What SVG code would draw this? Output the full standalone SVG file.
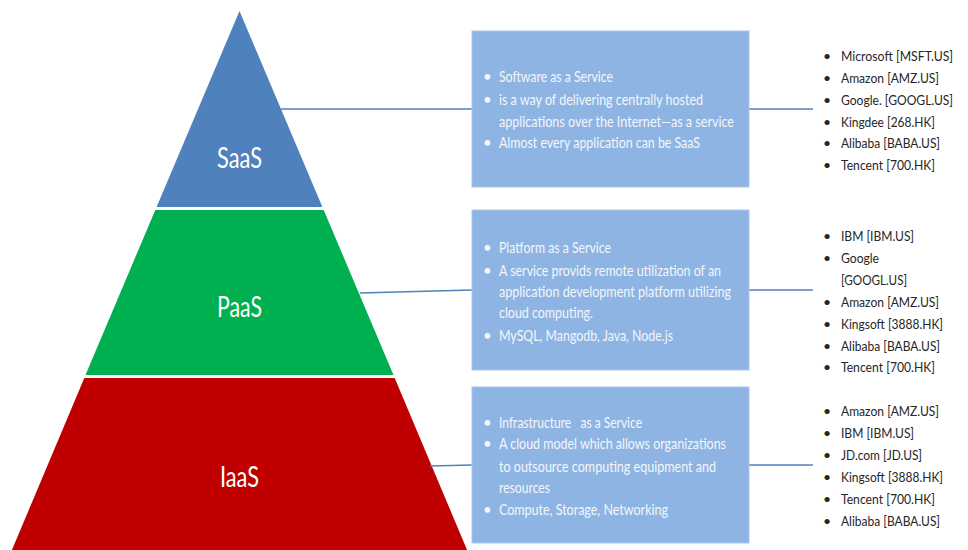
<svg xmlns="http://www.w3.org/2000/svg" width="968" height="550" viewBox="0 0 968 550">
<style>
.lbl{font-family:Lato,"Liberation Sans",sans-serif;font-size:28px;fill:#ffffff;}
.bx{fill:#8EB4E3;stroke:#A8C6EC;stroke-width:1;}
.bt{font-family:Lato,"Liberation Sans",sans-serif;font-size:15px;fill:#F4F6F9;}
.lt{font-family:Lato,"Liberation Sans",sans-serif;font-size:14px;fill:#262626;}
.conn line{stroke:#4F81BD;stroke-width:1.6;}
</style>
<rect width="968" height="550" fill="#ffffff"/>
<g id="saas">
<polygon points="239.5,11 322.4,207 156.6,207" fill="#4F81BD"/>
<text class="lbl" x="239.5" y="168" text-anchor="middle" textLength="45" lengthAdjust="spacingAndGlyphs">SaaS</text>
</g>
<g id="paas">
<polygon points="155.3,210 323.7,210 393.5,375 85.5,375" fill="#00B050"/>
<text class="lbl" x="239.5" y="317" text-anchor="middle" textLength="45" lengthAdjust="spacingAndGlyphs">PaaS</text>
</g>
<g id="iaas">
<polygon points="84.3,378 394.7,378 467.5,551 11.5,551" fill="#C00000"/>
<text class="lbl" x="239.5" y="487" text-anchor="middle" textLength="39" lengthAdjust="spacingAndGlyphs">IaaS</text>
</g>
<g class="conn" id="connectors">
<line x1="281" y1="109" x2="472" y2="109"/>
<line x1="749" y1="109" x2="813" y2="109"/>
<line x1="360" y1="293" x2="472" y2="290"/>
<line x1="749" y1="290" x2="813" y2="290"/>
<line x1="430" y1="466" x2="472" y2="465"/>
<line x1="749" y1="465" x2="813" y2="465"/>
</g>
<g id="box-saas">
<rect class="bx" x="472" y="31" width="277" height="156"/>
<text class="bt" x="483" y="82">•</text>
<text class="bt" x="499" y="82" textLength="114" lengthAdjust="spacingAndGlyphs">Software as a Service</text>
<text class="bt" x="483" y="105">•</text>
<text class="bt" x="499" y="105" textLength="204" lengthAdjust="spacingAndGlyphs">is a way of delivering centrally hosted</text>
<text class="bt" x="499" y="127" textLength="235" lengthAdjust="spacingAndGlyphs">applications over the Internet—as a service</text>
<text class="bt" x="483" y="148">•</text>
<text class="bt" x="499" y="148" textLength="201" lengthAdjust="spacingAndGlyphs">Almost every application can be SaaS</text>
</g>
<g id="box-paas">
<rect class="bx" x="472" y="210" width="277" height="160"/>
<text class="bt" x="483" y="253">•</text>
<text class="bt" x="499" y="253" textLength="112" lengthAdjust="spacingAndGlyphs">Platform as a Service</text>
<text class="bt" x="483" y="276">•</text>
<text class="bt" x="499" y="276" textLength="222" lengthAdjust="spacingAndGlyphs">A service provids remote utilization of an</text>
<text class="bt" x="499" y="297" textLength="232" lengthAdjust="spacingAndGlyphs">application development platform utilizing</text>
<text class="bt" x="499" y="318" textLength="94" lengthAdjust="spacingAndGlyphs">cloud computing.</text>
<text class="bt" x="483" y="341">•</text>
<text class="bt" x="499" y="341" textLength="174" lengthAdjust="spacingAndGlyphs">MySQL, Mangodb, Java, Node.js</text>
</g>
<g id="box-iaas">
<rect class="bx" x="472" y="387" width="277" height="156"/>
<text class="bt" x="483" y="428">•</text>
<text class="bt" x="499" y="428" textLength="143" lengthAdjust="spacingAndGlyphs" xml:space="preserve">Infrastructure   as a Service</text>
<text class="bt" x="483" y="449">•</text>
<text class="bt" x="499" y="449" textLength="227" lengthAdjust="spacingAndGlyphs">A cloud model which allows organizations</text>
<text class="bt" x="499" y="472" textLength="217" lengthAdjust="spacingAndGlyphs">to outsource computing equipment and</text>
<text class="bt" x="499" y="493" textLength="51" lengthAdjust="spacingAndGlyphs">resources</text>
<text class="bt" x="483" y="515">•</text>
<text class="bt" x="499" y="515" textLength="169" lengthAdjust="spacingAndGlyphs">Compute, Storage, Networking</text>
</g>
<g id="list-saas">
<text class="lt" x="823" y="61">•</text><text class="lt" x="841" y="61" textLength="112" lengthAdjust="spacingAndGlyphs">Microsoft [MSFT.US]</text>
<text class="lt" x="823" y="83">•</text><text class="lt" x="841" y="83" textLength="98" lengthAdjust="spacingAndGlyphs">Amazon [AMZ.US]</text>
<text class="lt" x="823" y="105">•</text><text class="lt" x="841" y="105" style="font-size:13px" textLength="112" lengthAdjust="spacingAndGlyphs">Google. [GOOGL.US]</text>
<text class="lt" x="823" y="127">•</text><text class="lt" x="841" y="127" textLength="94" lengthAdjust="spacingAndGlyphs">Kingdee [268.HK]</text>
<text class="lt" x="823" y="148">•</text><text class="lt" x="841" y="148" textLength="99" lengthAdjust="spacingAndGlyphs">Alibaba [BABA.US]</text>
<text class="lt" x="823" y="170">•</text><text class="lt" x="841" y="170" textLength="94" lengthAdjust="spacingAndGlyphs">Tencent [700.HK]</text>
</g>
<g id="list-paas">
<text class="lt" x="823" y="241">•</text><text class="lt" x="841" y="241" textLength="73" lengthAdjust="spacingAndGlyphs">IBM [IBM.US]</text>
<text class="lt" x="823" y="263">•</text><text class="lt" x="841" y="263" textLength="38" lengthAdjust="spacingAndGlyphs">Google</text>
<text class="lt" x="841" y="285" textLength="66" lengthAdjust="spacingAndGlyphs">[GOOGL.US]</text>
<text class="lt" x="823" y="307">•</text><text class="lt" x="841" y="307" textLength="98" lengthAdjust="spacingAndGlyphs">Amazon [AMZ.US]</text>
<text class="lt" x="823" y="329">•</text><text class="lt" x="841" y="329" textLength="102" lengthAdjust="spacingAndGlyphs">Kingsoft [3888.HK]</text>
<text class="lt" x="823" y="351">•</text><text class="lt" x="841" y="351" textLength="99" lengthAdjust="spacingAndGlyphs">Alibaba [BABA.US]</text>
<text class="lt" x="823" y="372">•</text><text class="lt" x="841" y="372" textLength="94" lengthAdjust="spacingAndGlyphs">Tencent [700.HK]</text>
</g>
<g id="list-iaas">
<text class="lt" x="823" y="416">•</text><text class="lt" x="841" y="416" textLength="98" lengthAdjust="spacingAndGlyphs">Amazon [AMZ.US]</text>
<text class="lt" x="823" y="438">•</text><text class="lt" x="841" y="438" textLength="73" lengthAdjust="spacingAndGlyphs">IBM [IBM.US]</text>
<text class="lt" x="823" y="460">•</text><text class="lt" x="841" y="460" textLength="81" lengthAdjust="spacingAndGlyphs">JD.com [JD.US]</text>
<text class="lt" x="823" y="482">•</text><text class="lt" x="841" y="482" textLength="102" lengthAdjust="spacingAndGlyphs">Kingsoft [3888.HK]</text>
<text class="lt" x="823" y="504">•</text><text class="lt" x="841" y="504" textLength="94" lengthAdjust="spacingAndGlyphs">Tencent [700.HK]</text>
<text class="lt" x="823" y="526">•</text><text class="lt" x="841" y="526" textLength="99" lengthAdjust="spacingAndGlyphs">Alibaba [BABA.US]</text>
</g>
</svg>
